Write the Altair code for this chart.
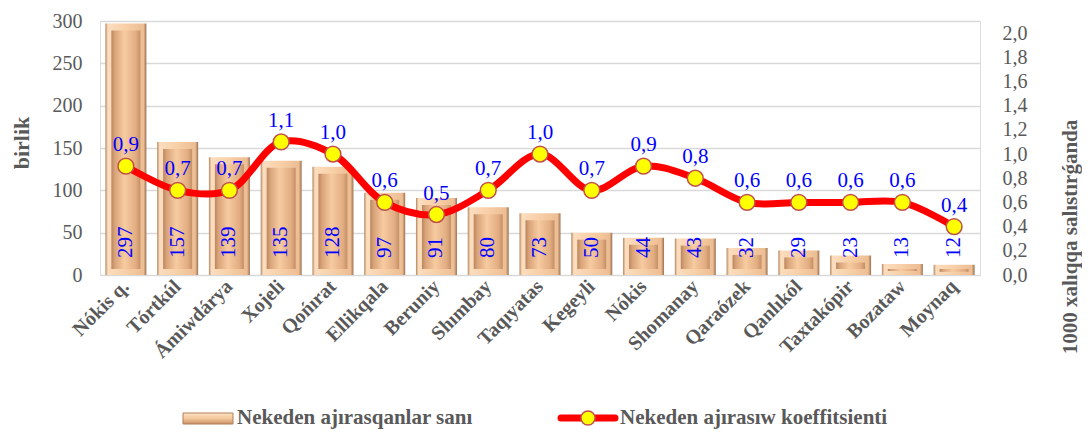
import altair as alt
import pandas as pd

categories = ["Nókis q.", "Tórtkúl", "Ámiwdárya", "Xojeli", "Qońırat", "Ellikqala", "Beruniy",
              "Shımbay", "Taqıyatas", "Kegeyli", "Nókis", "Shomanay", "Qaraózek", "Qanlıkól",
              "Taxtakópir", "Bozataw", "Moynaq"]
divorces = [297, 157, 139, 135, 128, 97, 91, 80, 73, 50, 44, 43, 32, 29, 23, 13, 12]
coef = [0.9, 0.7, 0.7, 1.1, 1.0, 0.6, 0.5, 0.7, 1.0, 0.7, 0.9, 0.8, 0.6, 0.6, 0.6, 0.6, 0.4]
left_ticks = [0, 50, 100, 150, 200, 250, 300]
right_ticks = [0.0, 0.2, 0.4, 0.6, 0.8, 1.0, 1.2, 1.4, 1.6, 1.8, 2.0]
series_names = ["Nekeden ajırasqanlar sanı", "Nekeden ajırasıw koeffitsienti"]
left_title = "birlik"
right_title = "1000 xalıqqa salıstırǵanda"

df = pd.DataFrame({"cat": categories, "n": divorces, "k": coef})
df["k_label"] = [f"{v:.1f}".replace(".", ",") for v in coef]

FONT = "'Liberation Serif', 'Times New Roman', serif"
GRAY = "#595959"
W, H = 880, 254

xenc = alt.X("cat:N", sort=categories, title=None,
             scale=alt.Scale(paddingInner=0.2, paddingOuter=0.1),
             axis=alt.Axis(labelAngle=315, labelAlign="right", labelBaseline="middle",
                           labelFont=FONT, labelFontSize=20, labelFontWeight="bold",
                           labelColor=GRAY, ticks=False, domain=False, labelPadding=8,
                           labelOverlap=False, labelLimit=300))
xplain = alt.X("cat:N", sort=categories)

outer_grad = alt.LinearGradient(gradient="linear", x1=0, x2=1, y1=0, y2=0, stops=[
    alt.GradientStop(offset=0, color="#B3865F"),
    alt.GradientStop(offset=0.06, color="#FBDDBE"),
    alt.GradientStop(offset=0.5, color="#F8CFA7"),
    alt.GradientStop(offset=0.93, color="#EDBD93"),
    alt.GradientStop(offset=1, color="#9A7050")])
inner_grad = alt.LinearGradient(gradient="linear", x1=0, x2=1, y1=0, y2=0, stops=[
    alt.GradientStop(offset=0, color="#B98660"),
    alt.GradientStop(offset=0.12, color="#D9A378"),
    alt.GradientStop(offset=0.45, color="#F7CBA1"),
    alt.GradientStop(offset=0.85, color="#E2AC81"),
    alt.GradientStop(offset=1, color="#C38F66")])

left_axis = alt.Axis(values=left_ticks, grid=True, gridColor="#D9D9D9", gridWidth=1.5,
                     ticks=False, domain=False, labelFont=FONT, labelFontSize=20,
                     labelColor=GRAY, labelPadding=18, labelOverlap=False, title=None)
yleft = alt.Y("n:Q", scale=alt.Scale(domain=[0, 300], nice=False), axis=left_axis)

base = alt.Chart(df)
bars = base.mark_bar(size=41, color=outer_grad).encode(x=xenc, y=yleft, y2=alt.datum(0))
inner = base.mark_bar(size=29, color=inner_grad, yOffset=7, y2Offset=-6).encode(
    x=xplain, y=yleft, y2=alt.datum(0))
bar_text = base.mark_text(angle=270, align="left", baseline="middle", dx=17,
                          font=FONT, fontSize=21, color="#0000FF").encode(
    x=xplain, y=alt.datum(0), text="n:Q")
left_layer = alt.layer(bars, inner, bar_text)

right_axis = alt.Axis(orient="right", values=right_ticks, grid=False, ticks=False,
                      domain=False, labelFont=FONT, labelFontSize=20, labelColor=GRAY,
                      labelPadding=22, labelOverlap=False, labelBound=False,
                      labelSeparation=0,
                      labelExpr="replace(format(datum.value, '.1f'), '.', ',')", title=None)
yright = alt.Y("k:Q", scale=alt.Scale(domain=[0, 2.1], nice=False), axis=right_axis)

line = base.mark_line(color="#FF0000", strokeWidth=7, interpolate="catmull-rom").encode(
    x=xplain, y=yright)
pts = base.mark_point(shape="circle", filled=True, size=250, fill="#FFFF00", stroke="#C0504D",
                      strokeWidth=1.5, opacity=1).encode(x=xplain, y=yright)
pt_text = base.mark_text(dy=-21, font=FONT, fontSize=21, color="#0000FF").encode(
    x=xplain, y=yright, text="k_label:N")
right_layer = alt.layer(line, pts, pt_text)

# axis titles and legend
one = alt.Chart(pd.DataFrame({"a": [0]}))
title_l = one.mark_text(angle=270, align="center", baseline="middle", font=FONT, fontSize=22,
                        fontWeight="bold", color=GRAY).encode(
    x=alt.value(-78), y=alt.value(122), text=alt.value(left_title))
title_r = one.mark_text(angle=270, align="center", baseline="middle", font=FONT, fontSize=21,
                        fontWeight="bold", color=GRAY).encode(
    x=alt.value(W + 91), y=alt.value(216), text=alt.value(right_title))

swatch_grad = alt.LinearGradient(gradient="linear", x1=0, x2=0, y1=0, y2=1, stops=[
    alt.GradientStop(offset=0, color="#FBE2C4"),
    alt.GradientStop(offset=0.5, color="#F5C79C"),
    alt.GradientStop(offset=1, color="#C99066")])
LY = 397
leg_bar = one.mark_rect(color=swatch_grad, stroke="#B07E58", strokeWidth=1).encode(
    x=alt.value(83), x2=alt.value(133), y=alt.value(LY - 5), y2=alt.value(LY + 6))
leg_text1 = one.mark_text(align="left", baseline="middle", font=FONT, fontSize=21,
                          fontWeight="bold", color=GRAY).encode(
    x=alt.value(137), y=alt.value(LY), text=alt.value(series_names[0]))
leg_line = one.mark_rule(color="#FF0000", strokeWidth=7, strokeCap="round").encode(
    x=alt.value(461), x2=alt.value(515), y=alt.value(LY))
leg_pt = one.mark_point(shape="circle", filled=True, size=200, fill="#FFFF00",
                        stroke="#C0504D", strokeWidth=1.5, opacity=1).encode(
    x=alt.value(488), y=alt.value(LY))
leg_text2 = one.mark_text(align="left", baseline="middle", font=FONT, fontSize=21,
                          fontWeight="bold", color=GRAY).encode(
    x=alt.value(520), y=alt.value(LY), text=alt.value(series_names[1]))
extras = alt.layer(title_l, title_r, leg_bar, leg_text1, leg_line, leg_pt, leg_text2)

chart = alt.layer(left_layer, right_layer, extras).resolve_scale(y="independent").properties(
    width=W, height=H,
    autosize=alt.AutoSizeParams(type="none"),
    padding={"left": 92, "top": 13, "right": 102, "bottom": 157},
).configure_view(stroke=None).configure(background="white")

chart.save("out.html", embed_options={"renderer": "svg", "actions": False})
